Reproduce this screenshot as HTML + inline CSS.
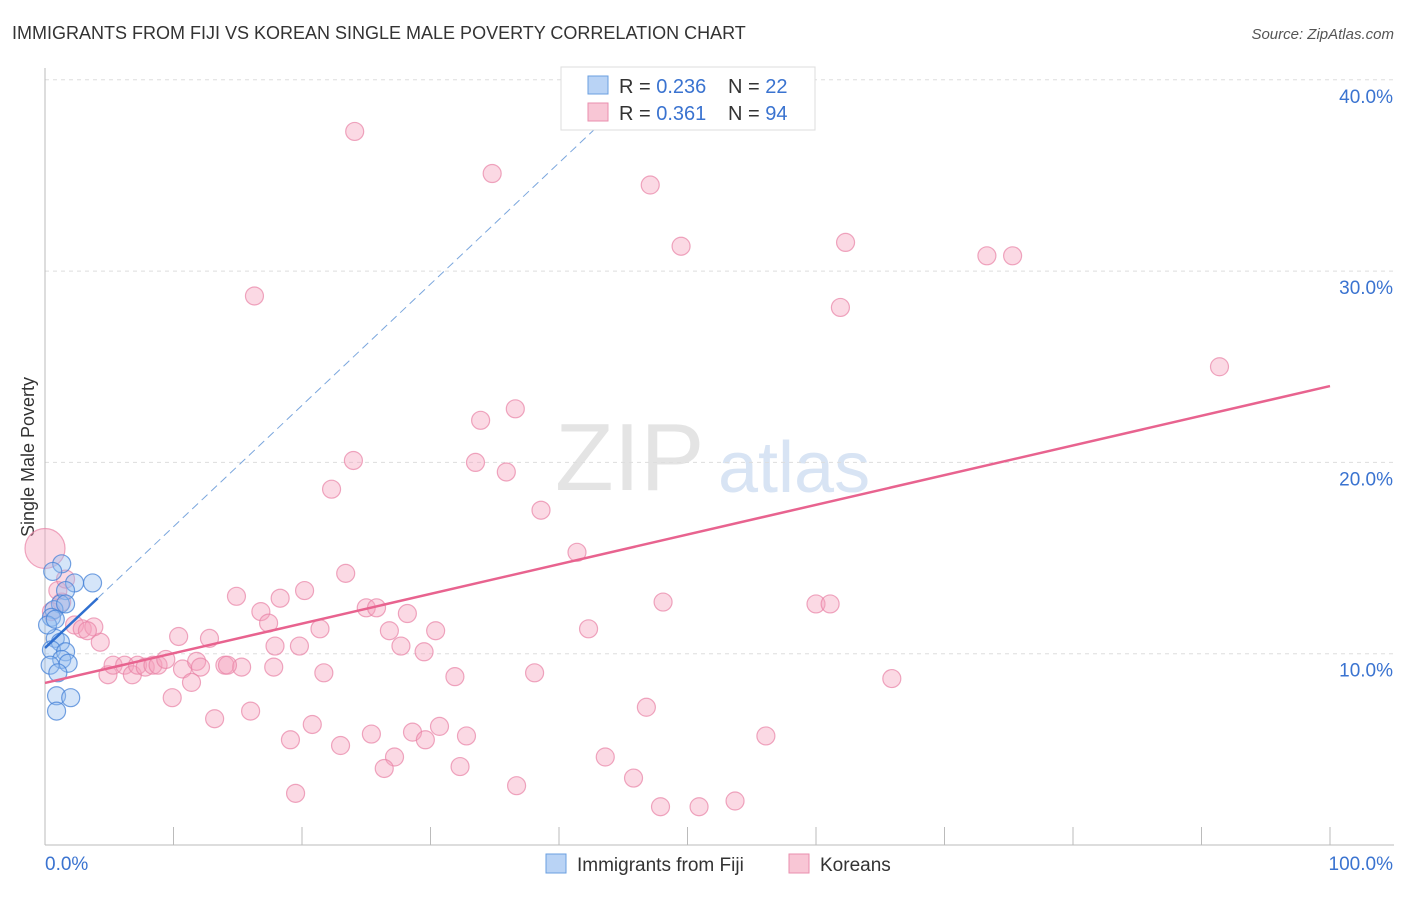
<!DOCTYPE html>
<html><head><meta charset="utf-8"><style>
body{margin:0;background:#fff;font-family:"Liberation Sans",sans-serif;}
svg text{font-family:"Liberation Sans",sans-serif;}
</style></head><body>
<svg id="c" width="1406" height="892" xmlns="http://www.w3.org/2000/svg">
<text x="12" y="39" font-size="18" fill="#333">IMMIGRANTS FROM FIJI VS KOREAN SINGLE MALE POVERTY CORRELATION CHART</text>
<text x="1394" y="39" font-size="15" fill="#555" text-anchor="end" font-style="italic">Source: ZipAtlas.com</text>
<text x="34" y="457" font-size="18" fill="#333" text-anchor="middle" transform="rotate(-90 34 457)">Single Male Poverty</text>
<text x="555" y="490" font-size="96" fill="#e4e4e4" font-family="Liberation Serif">ZIP</text>
<text x="718" y="492" font-size="72" fill="#d8e4f4">atlas</text>
<g id="grid"></g><g id="axes"></g><g id="marks"></g>
<g>
<rect x="561" y="67" width="254" height="63" fill="#fff" stroke="#ddd"/>
<rect x="588" y="76" width="20" height="18" fill="#b9d3f5" stroke="#6a9fe0"/>
<rect x="588" y="103" width="20" height="18" fill="#f8c6d5" stroke="#ea8fae"/>
<text x="619" y="93" font-size="20" fill="#333">R = <tspan fill="#3a73d0">0.236</tspan></text>
<text x="728" y="93" font-size="20" fill="#333">N = <tspan fill="#3a73d0">22</tspan></text>
<text x="619" y="120" font-size="20" fill="#333">R = <tspan fill="#3a73d0"> 0.361</tspan></text>
<text x="728" y="120" font-size="20" fill="#333">N = <tspan fill="#3a73d0">94</tspan></text>
</g>
<g>
<rect x="546" y="854" width="20" height="19" fill="#b9d3f5" stroke="#6a9fe0"/>
<text x="577" y="871" font-size="19" fill="#333">Immigrants from Fiji</text>
<rect x="789" y="854" width="20" height="19" fill="#f8c6d5" stroke="#ea8fae"/>
<text x="820" y="871" font-size="19" fill="#333">Koreans</text>
</g>
</svg>
<script>
const yTicks=[10,20,30,40];
const yTickLabels=["10.0%","20.0%","30.0%","40.0%"];
const xEndLabels=["0.0%","100.0%"];
const fijiX=[1.3,0.6,2.3,3.7,1.6,1.2,0.7,0.5,0.8,1.2,0.5,1.6,1.3,1.8,0.4,1.0,0.9,2.0,0.9,0.2,0.8,1.6];
const fijiY=[14.7,14.3,13.7,13.7,13.3,12.6,12.3,11.9,10.8,10.6,10.2,10.1,9.7,9.5,9.4,9.0,7.8,7.7,7.0,11.5,11.8,12.6];
const korX=[0,24.1,34.8,47.1,49.5,62.3,73.3,75.3,16.3,61.9,91.4,36.6,33.9,24.0,33.5,35.9,22.3,38.6,41.4,23.4,20.2,14.9,18.3,48.1,60.0,61.1,25.0,25.8,28.2,16.8,17.4,42.3,21.4,26.8,30.4,10.4,12.8,17.9,19.8,27.7,29.5,4.3,1.3,1.0,1.6,2.3,2.9,3.8,3.3,4.9,5.3,6.2,6.8,7.2,7.8,8.4,8.8,9.4,10.7,11.8,12.1,14.0,15.3,14.2,17.8,21.7,31.9,38.1,65.9,9.9,11.4,13.2,16.0,20.8,19.1,23.0,25.4,28.6,30.7,32.8,29.6,46.8,56.1,27.2,26.4,32.3,43.6,45.8,36.7,19.5,47.9,50.9,53.7,0.5];
const korY=[15.5,37.3,35.1,34.5,31.3,31.5,30.8,30.8,28.7,28.1,25.0,22.8,22.2,20.1,20.0,19.5,18.6,17.5,15.3,14.2,13.3,13.0,12.9,12.7,12.6,12.6,12.4,12.4,12.1,12.2,11.6,11.3,11.3,11.2,11.2,10.9,10.8,10.4,10.4,10.4,10.1,10.6,12.7,13.3,13.9,11.5,11.3,11.4,11.2,8.9,9.4,9.4,8.9,9.4,9.3,9.4,9.4,9.7,9.2,9.6,9.3,9.4,9.3,9.4,9.3,9.0,8.8,9.0,8.7,7.7,8.5,6.6,7.0,6.3,5.5,5.2,5.8,5.9,6.2,5.7,5.5,7.2,5.7,4.6,4.0,4.1,4.6,3.5,3.1,2.7,2.0,2.0,2.3,12.2];
const korTrend=[8.47,23.99];
const fijiTrend=[10.3,12.9,4.1,0.634];
const NS="http://www.w3.org/2000/svg";
const X=v=>45+v*12.85, Y=v=>845-v*19.13;
function mk(p,t,a){const e=document.createElementNS(NS,t);for(const k in a)e.setAttribute(k,a[k]);document.getElementById(p).appendChild(e);return e;}
yTicks.forEach((t,i)=>{
 const g=mk('grid','line',{x1:45,x2:1394,y1:Y(t),y2:Y(t),stroke:'#ddd','stroke-dasharray':'4,4'});
 
 
 const l=mk('axes','text',{x:1393,y:Y(t)+23,'font-size':19,fill:'#3a73d0','text-anchor':'end'});l.textContent=yTickLabels[i];
 
 
});
const ax=mk('axes','line',{x1:45,x2:45,y1:68,y2:845,stroke:'#bbb'});


const bx=mk('axes','line',{x1:45,x2:1394,y1:845,y2:845,stroke:'#bbb'});


for(let i=0;i<=10;i++){const t=mk('axes','line',{x1:X(i*10),x2:X(i*10),y1:827,y2:845,stroke:'#bbb'});
 
 }
const l0=mk('axes','text',{x:45,y:870,'font-size':19,fill:'#3a73d0'});l0.textContent=xEndLabels[0];


const l1=mk('axes','text',{x:1393,y:870,'font-size':19,fill:'#3a73d0','text-anchor':'end'});l1.textContent=xEndLabels[1];


korX.forEach((x,i)=>{const c=mk('marks','circle',{cx:X(x),cy:Y(korY[i]),r:i==0?20:9,fill:'rgba(244,160,188,0.4)',stroke:'rgba(232,130,165,0.7)','stroke-width':1.2});
 
 });
fijiX.forEach((x,i)=>{const c=mk('marks','circle',{cx:X(x),cy:Y(fijiY[i]),r:9,fill:'rgba(150,190,240,0.4)',stroke:'rgba(70,130,215,0.75)','stroke-width':1.2});
 
 });
const kt=mk('marks','line',{x1:X(0),y1:Y(korTrend[0]),x2:X(100),y2:Y(korTrend[1]),stroke:'#e8638f','stroke-width':2.5});


const xe=(40-fijiTrend[0])/fijiTrend[3];
const fd=mk('marks','line',{x1:X(fijiTrend[2]),y1:Y(fijiTrend[1]),x2:X(xe),y2:Y(40),stroke:'#7aa6dd','stroke-width':1,'stroke-dasharray':'8,5'});


const ft=mk('marks','line',{x1:X(0),y1:Y(fijiTrend[0]),x2:X(fijiTrend[2]),y2:Y(fijiTrend[1]),stroke:'#2f6fd0','stroke-width':2.5});


</script>
</body></html>
